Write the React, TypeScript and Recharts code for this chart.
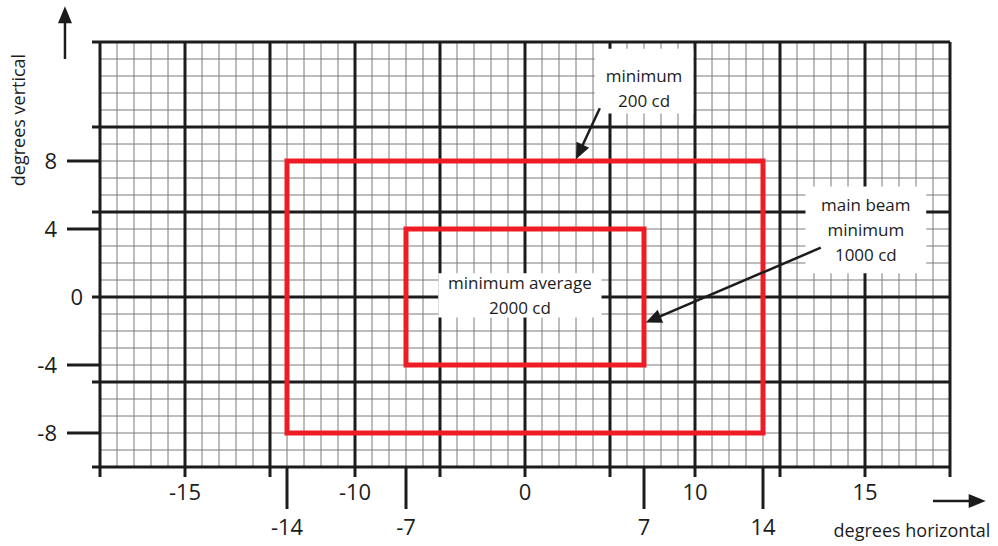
import React from 'react';
import { ComposedChart, XAxis, YAxis, ReferenceLine, ReferenceArea } from 'recharts';

const FONT = '"Comic Sans MS", "Open Sans", sans-serif';
const INK = '#1c1c1c';
const MINOR = '#7a7a7a';
const RED = '#ee1c25';

// axes
const xDomain = [-25, 25];
const yDomain = [-10, 15];
const majorStep = 5;

// labels on the heavy lines (as printed on the original sheet)
const upperTickValues = [-20, -10, 0, 10, 20];
const upperTickLabels = ['-15', '-10', '0', '10', '15'];
// labels under the long ticks
const lowerTickValues = [-14, -7, 7, 14];
const verticalTickValues = [8, 4, 0, -4, -8];

// zones (degrees)
const outerZoneX = [-14, 14];
const outerZoneY = [-8, 8];
const innerZoneX = [-7, 7];
const innerZoneY = [-4, 4];

// callouts
const noteText = [
  ['minimum', '200 cd'],
  ['minimum average', '2000 cd'],
  ['main beam', 'minimum', '1000 cd'],
];
const noteX = [[4.1, 9.9], [-5.1, 4.5], [16.5, 23.6]];
const noteY = [[10.8, 14.6], [-1.2, 1.4], [1.4, 6.5]];
const noteArrowFrom = [{ x: 4.4, y: 11.1 }, { x: 17.4, y: 2.9 }];
const noteArrowTo = [{ x: 3.0, y: 8.1 }, { x: 7.1, y: -1.5 }];

// axis title arrows
const vArrow = [{ x: -27.06, y: 14.0 }, { x: -27.06, y: 17.1 }];
const hArrow = [{ x: 24.0, y: -12.0 }, { x: 27.1, y: -12.0 }];

const range = (a: number, b: number, step = 1) => {
  const out: number[] = [];
  for (let v = a; v <= b; v += step) out.push(v);
  return out;
};

const xMinor = range(xDomain[0], xDomain[1]).filter((v) => v % majorStep !== 0);
const yMinor = range(yDomain[0], yDomain[1]).filter((v) => v % majorStep !== 0);
const xMajor = range(xDomain[0], xDomain[1], majorStep);
const yMajor = range(yDomain[0], yDomain[1], majorStep);

const xTicks = Array.from(new Set([...xMajor, ...lowerTickValues])).sort((a, b) => a - b);
const yTicks = Array.from(new Set([...yMajor, ...verticalTickValues])).sort((a, b) => a - b);

function HorizontalTick({ x, y, payload }: any) {
  const v = payload.value;
  const ui = upperTickValues.indexOf(v);
  const isLower = lowerTickValues.includes(v);
  return (
    <g>
      {v % majorStep === 0 && <line x1={x} y1={y} x2={x} y2={y + 10} stroke={INK} strokeWidth={3} />}
      {ui >= 0 && (
        <text x={x} y={y + 33} textAnchor="middle" fontSize={22} fontFamily={FONT} fill={INK}>
          {upperTickLabels[ui]}
        </text>
      )}
      {isLower && (
        <>
          <line x1={x} y1={y} x2={x} y2={y + 42} stroke={INK} strokeWidth={3} />
          <text x={x} y={y + 68} textAnchor="middle" fontSize={22} fontFamily={FONT} fill={INK}>
            {v}
          </text>
        </>
      )}
    </g>
  );
}

function VerticalTick({ x, y, payload }: any) {
  const v = payload.value;
  const labelled = verticalTickValues.includes(v);
  const major = v % majorStep === 0;
  return (
    <g>
      {major && <line x1={x - 8} y1={y} x2={x} y2={y} stroke={INK} strokeWidth={3} />}
      {labelled && !major && <line x1={x - 33} y1={y} x2={x} y2={y} stroke={INK} strokeWidth={3} />}
      {labelled && (
        <text
          x={major ? x - 17 : x - 43}
          y={y + 8}
          textAnchor="end"
          fontSize={22}
          fontFamily={FONT}
          fill={INK}
        >
          {v}
        </text>
      )}
    </g>
  );
}

const arrowShape = (head: number, half: number) => (p: any) => {
  const { x1, y1, x2, y2 } = p;
  if (x1 == null || x2 == null) return <g />;
  const len = Math.hypot(x2 - x1, y2 - y1) || 1;
  const ux = (x2 - x1) / len;
  const uy = (y2 - y1) / len;
  const bx = x2 - ux * head;
  const by = y2 - uy * head;
  const pts = `${x2},${y2} ${bx - uy * half},${by + ux * half} ${bx + uy * half},${by - ux * half}`;
  return (
    <g>
      <line x1={x1} y1={y1} x2={bx + ux} y2={by + uy} stroke={INK} strokeWidth={2.5} />
      <polygon points={pts} fill={INK} />
    </g>
  );
};

const noteLabel = (lines: string[], dy: number) => (props: any) => {
  const vb = props.viewBox || {};
  const cx = vb.x + vb.width / 2;
  const cy = vb.y + vb.height / 2 + dy;
  const gap = 25;
  const top = cy - ((lines.length - 1) * gap) / 2;
  return (
    <g>
      {lines.map((t, i) => (
        <text
          key={i}
          x={cx}
          y={top + i * gap}
          textAnchor="middle"
          dominantBaseline="central"
          fontSize={17}
          fontFamily={FONT}
          fill={INK}
        >
          {t}
        </text>
      ))}
    </g>
  );
};

const noteShift = [7, 0, 0];

export default function App() {
  return (
    <div style={{ position: 'absolute', left: 0, top: 0, width: 998, height: 546, background: '#fff' }}>
      <ComposedChart width={998} height={546} margin={{ top: 42, right: 48, left: 0, bottom: 0 }}>
        <XAxis
          type="number"
          dataKey="x"
          domain={xDomain}
          ticks={xTicks}
          interval={0}
          allowDataOverflow
          axisLine={false}
          tickLine={false}
          tickSize={0}
          tickMargin={0}
          height={79}
          tick={(p: any) => <HorizontalTick {...p} />}
          label={(p: any) => {
            const vb = p.viewBox || {};
            return (
              <text
                x={vb.x + vb.width - 38}
                y={vb.y + 63}
                textAnchor="middle"
                dominantBaseline="central"
                fontSize={18}
                fontFamily={FONT}
                fill={INK}
              >
                degrees horizontal
              </text>
            );
          }}
        />
        <YAxis
          type="number"
          dataKey="y"
          domain={yDomain}
          ticks={yTicks}
          interval={0}
          allowDataOverflow
          axisLine={false}
          tickLine={false}
          tickSize={0}
          tickMargin={0}
          width={100}
          tick={(p: any) => <VerticalTick {...p} />}
          label={(p: any) => {
            const vb = p.viewBox || {};
            const cx = vb.x + 18;
            const cy = vb.y + 78;
            return (
              <text
                x={cx}
                y={cy}
                transform={`rotate(-90, ${cx}, ${cy})`}
                textAnchor="middle"
                dominantBaseline="central"
                fontSize={18}
                fontFamily={FONT}
                fill={INK}
              >
                degrees vertical
              </text>
            );
          }}
        />

        {xMinor.map((v) => (
          <ReferenceLine key={`xm${v}`} x={v} stroke={MINOR} strokeWidth={1} zIndex={-60} />
        ))}
        {yMinor.map((v) => (
          <ReferenceLine key={`ym${v}`} y={v} stroke={MINOR} strokeWidth={1} zIndex={-60} />
        ))}
        {xMajor.map((v) => (
          <ReferenceLine key={`xM${v}`} x={v} stroke={INK} strokeWidth={3} zIndex={-50} />
        ))}
        {yMajor.map((v) => (
          <ReferenceLine key={`yM${v}`} y={v} stroke={INK} strokeWidth={3} zIndex={-50} />
        ))}

        <ReferenceArea
          x1={outerZoneX[0]}
          x2={outerZoneX[1]}
          y1={outerZoneY[0]}
          y2={outerZoneY[1]}
          fill="none"
          stroke={RED}
          strokeWidth={5}
          strokeOpacity={1}
          zIndex={10}
        />
        <ReferenceArea
          x1={innerZoneX[0]}
          x2={innerZoneX[1]}
          y1={innerZoneY[0]}
          y2={innerZoneY[1]}
          fill="none"
          stroke={RED}
          strokeWidth={5}
          strokeOpacity={1}
          zIndex={10}
        />

        {noteText.map((lines, i) => (
          <ReferenceArea
            key={`note${i}`}
            x1={noteX[i][0]}
            x2={noteX[i][1]}
            y1={noteY[i][0]}
            y2={noteY[i][1]}
            fill="#fff"
            fillOpacity={1}
            stroke="none"
            zIndex={20}
            label={noteLabel(lines, noteShift[i])}
          />
        ))}

        {noteArrowFrom.map((from, i) => (
          <ReferenceLine
            key={`arrow${i}`}
            segment={[from, noteArrowTo[i]]}
            ifOverflow="visible"
            zIndex={30}
            shape={arrowShape(16, 7)}
          />
        ))}
        <ReferenceLine segment={vArrow} ifOverflow="visible" zIndex={30} shape={arrowShape(17, 7)} />
        <ReferenceLine segment={hArrow} ifOverflow="visible" zIndex={30} shape={arrowShape(17, 7)} />
      </ComposedChart>
    </div>
  );
}
